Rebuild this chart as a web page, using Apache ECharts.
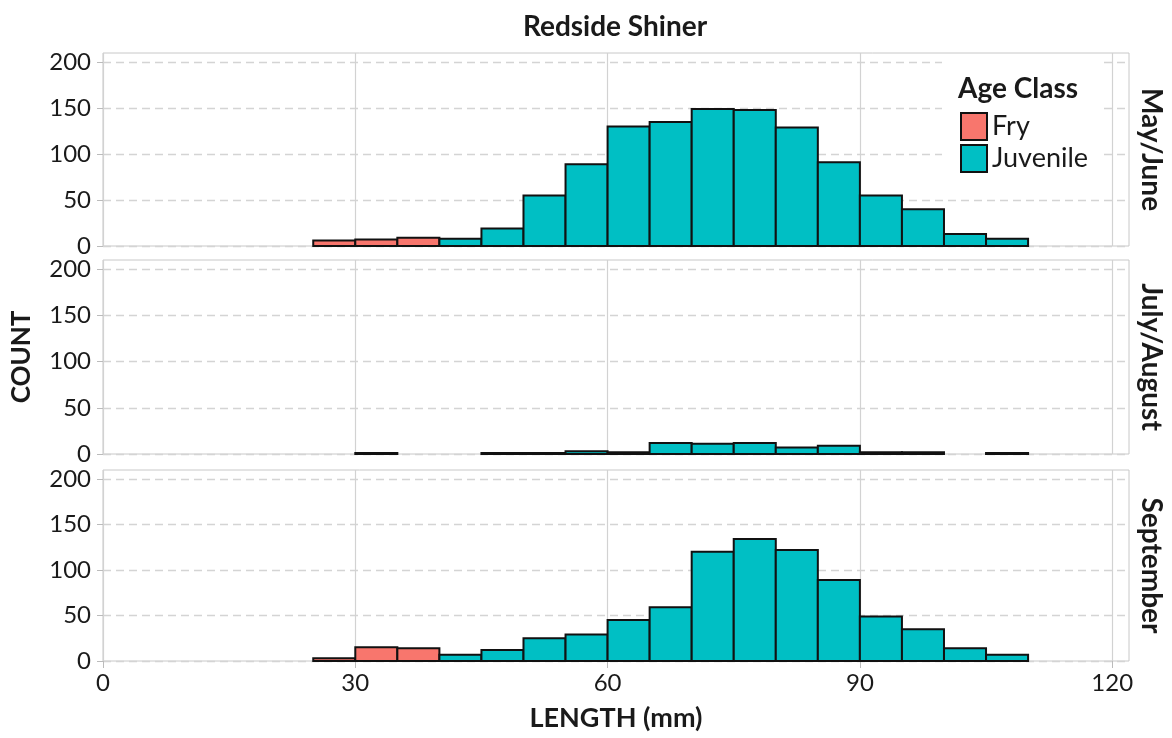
<!DOCTYPE html>
<html><head><meta charset="utf-8">
<script src="https://cdn.jsdelivr.net/npm/echarts@6/dist/echarts.min.js"></script>
<style>html,body{margin:0;padding:0;background:#fff}#c{width:1172px;height:738px}</style>
</head><body><div id="c"></div>
<script>
// ---- data ----
const binStarts = [25,30,35,40,45,50,55,60,65,70,75,80,85,90,95,100,105];
const binWidth = 5;
const panelNames = ['May/June','July/August','September'];
const mayJuneFry        = [6,7,9,0,0,0,0,0,0,0,0,0,0,0,0,0,0];
const mayJuneJuvenile   = [0,0,0,8,19,55,89,130,135,149,148,129,91,55,40,13,8];
const julyAugustFry      = [0,0,0,0,0,0,0,0,0,0,0,0,0,0,0,0,0];
const julyAugustJuvenile = [0,1,0,0,1,1,3,2,12,11,12,7,9,2,2,0,1];
const septemberFry       = [3,15,14,0,0,0,0,0,0,0,0,0,0,0,0,0,0];
const septemberJuvenile  = [0,0,0,7,12,25,29,45,59,120,134,122,89,49,35,14,7];
const xTicks = [0,30,60,90,120];
const yTicks = [0,50,100,150,200];
const chartTitle = 'Redside Shiner';
const xTitle = 'LENGTH (mm)';
const yTitle = 'COUNT';
const legendTitle = 'Age Class';

// ---- styling ----
const FONT = 'Lato, "DejaVu Sans", sans-serif';
const TXT = '#1a1a1a';
const FRY = '#F8766D', JUV = '#00BFC4';
const gridTops = [53, 260, 470];
const gridHeights = [193, 194, 191];
const GL = 103, GW = 1026;

const fryData = [mayJuneFry, julyAugustFry, septemberFry];
const juvData = [mayJuneJuvenile, julyAugustJuvenile, septemberJuvenile];

function renderBar(params, api) {
  const x0 = api.value(0), x1 = api.value(1), y0 = api.value(2), y1 = api.value(3);
  if (!(y1 > y0)) return null;
  const p0 = api.coord([x0, y1]);
  const p1 = api.coord([x1, y0]);
  return {
    type: 'rect',
    shape: {x: p0[0], y: p0[1], width: p1[0] - p0[0], height: p1[1] - p0[1]},
    style: {fill: api.visual('color'), stroke: '#111', lineWidth: 2}
  };
}

const grid = [], xAxis = [], yAxis = [], series = [], graphic = [];
for (let i = 0; i < 3; i++) {
  grid.push({left: GL, width: GW, top: gridTops[i], height: gridHeights[i], show: true,
    borderColor: '#c8c8c8', borderWidth: 1, backgroundColor: 'transparent'});
  const last = i === 2;
  xAxis.push({type: 'value', gridIndex: i, min: 0, max: 122, interval: 30,
    axisLine: {show: false},
    axisTick: {show: last, length: 7, lineStyle: {color: '#bbb'}, customValues: xTicks},
    axisLabel: {show: last, customValues: xTicks, margin: 10, fontFamily: FONT, fontSize: 24, color: TXT},
    splitLine: {show: true, lineStyle: {color: '#d2d2d2', width: 1.2}}
  });
  yAxis.push({type: 'value', gridIndex: i, min: 0, max: 210, interval: 50,
    axisLine: {show: false},
    axisTick: {show: true, length: 6, lineStyle: {color: '#bbb'}, customValues: yTicks},
    axisLabel: {customValues: yTicks, margin: 12, fontFamily: FONT, fontSize: 24, color: TXT},
    splitLine: {show: true, lineStyle: {color: '#d4d4d4', width: 1.3, type: [8, 5]}}
  });
  const fd = binStarts.map((b, k) => [b, b + binWidth, 0, fryData[i][k]]);
  const jd = binStarts.map((b, k) => [b, b + binWidth, fryData[i][k], fryData[i][k] + juvData[i][k]]);
  series.push({type: 'custom', name: 'Fry', xAxisIndex: i, yAxisIndex: i, renderItem: renderBar,
    itemStyle: {color: FRY}, encode: {x: [0, 1], y: [2, 3]}, data: fd, z: 3});
  series.push({type: 'custom', name: 'Juvenile', xAxisIndex: i, yAxisIndex: i, renderItem: renderBar,
    itemStyle: {color: JUV}, encode: {x: [0, 1], y: [2, 3]}, data: jd, z: 3});
  graphic.push({type: 'text', x: 1151, y: gridTops[i] + gridHeights[i] / 2, rotation: -Math.PI / 2,
    style: {text: panelNames[i], font: 'bold 28px ' + FONT, fill: TXT, align: 'center', verticalAlign: 'middle'}});
}
graphic.push({type: 'text', x: 615, y: 27, style: {text: chartTitle, font: 'bold 28px ' + FONT, fill: TXT, align: 'center', verticalAlign: 'middle'}});
graphic.push({type: 'text', x: 616, y: 718, style: {text: xTitle, font: 'bold 27px ' + FONT, fill: TXT, align: 'center', verticalAlign: 'middle'}});
graphic.push({type: 'text', x: 22, y: 357, rotation: Math.PI / 2, style: {text: yTitle, font: 'bold 26px ' + FONT, fill: TXT, align: 'center', verticalAlign: 'middle'}});
graphic.push({type: 'text', x: 958, y: 89, z: 100, style: {text: legendTitle, font: 'bold 28px ' + FONT, fill: TXT, align: 'left', verticalAlign: 'middle'}});

const chart = echarts.init(document.getElementById('c'), null, {renderer: 'canvas'});
chart.setOption({
  animation: false,
  backgroundColor: '#fff',
  grid, xAxis, yAxis, series, graphic,
  legend: {
    orient: 'vertical', left: 942, top: 60, selectedMode: false,
    padding: [52, 12, 12, 18], backgroundColor: '#fff',
    itemWidth: 26, itemHeight: 27, itemGap: 3,
    textStyle: {fontFamily: FONT, fontSize: 27, color: TXT},
    data: [
      {name: 'Fry', icon: 'rect', itemStyle: {color: FRY, borderColor: '#111', borderWidth: 2}},
      {name: 'Juvenile', icon: 'rect', itemStyle: {color: JUV, borderColor: '#111', borderWidth: 2}}
    ]
  }
});
</script></body></html>
